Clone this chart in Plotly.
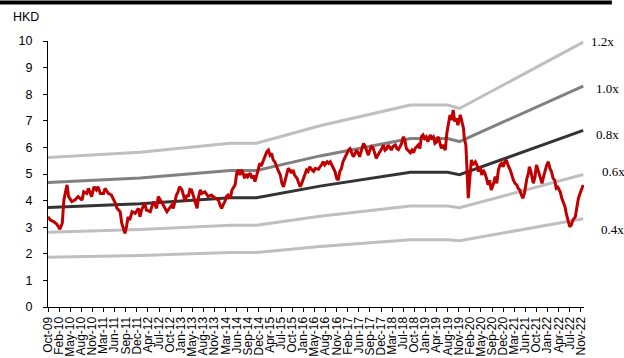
import pandas as pd
import plotly.graph_objects as go

# ---------------- data ----------------
base_date = "2009-10-30"

price_weeks = [
    0, 3, 7, 11, 15, 18, 20, 24, 26, 30, 34, 38, 43, 45, 49, 51, 55, 58, 61, 63,
    66, 70, 72, 76, 80, 85, 87, 91, 93, 95, 97, 99, 101, 103, 106, 110, 114, 116, 118, 122,
    124, 129, 131, 133, 137, 139, 143, 148, 150, 156, 158, 160, 162, 164, 166, 169, 171, 173, 175, 177,
    179, 181, 183, 185, 188, 190, 192, 194, 198, 202, 206, 211, 215, 217, 219, 221, 223, 225, 227, 230,
    232, 236, 238, 240, 242, 244, 246, 248, 250, 252, 255, 257, 259, 261, 263, 265, 267, 269, 271, 274,
    276, 278, 280, 282, 284, 286, 288, 290, 293, 295, 297, 299, 301, 303, 305, 307, 309, 311, 314, 316,
    318, 320, 322, 324, 326, 328, 330, 333, 335, 337, 341, 343, 345, 347, 349, 352, 354, 356, 358, 360,
    362, 364, 366, 368, 370, 372, 375, 377, 379, 381, 383, 385, 387, 389, 391, 393, 396, 398, 400, 402,
    404, 406, 408, 410, 412, 414, 416, 419, 421, 423, 425, 427, 429, 431, 433, 435, 438, 440, 442, 444,
    446, 448, 450, 452, 454, 457, 459, 461, 463, 467, 469, 471, 473, 475, 477, 479, 482, 484, 486, 488,
    490, 492, 494, 496, 498, 501, 503, 505, 507, 509, 511, 513, 515, 517, 520, 522, 524, 525, 527, 528,
    529, 530, 532, 534, 536, 539, 541, 543, 545, 547, 549, 551, 553, 555, 557, 559, 562, 564, 566, 568,
    570, 572, 574, 576, 578, 580, 583, 585, 587, 589, 591, 593, 595, 597, 599, 601, 602, 604, 606, 607,
    609, 611, 612, 614, 615, 616, 618, 621, 623, 625, 627, 629, 631, 633, 635, 637, 639, 641, 643, 646,
    648, 650, 652, 654, 656, 658, 660, 662, 665, 667, 669, 671, 673, 675,
]
price_hkd = [
    3.39, 3.27, 3.21, 3.12, 2.92, 3.15, 4.02, 4.59, 4.15, 3.96, 4.02, 4.15, 4.02, 4.33, 4.27, 4.46, 4.15, 4.52, 4.40, 4.52,
    4.27, 4.27, 4.46, 4.27, 4.21, 3.90, 3.71, 3.58, 3.15, 2.96, 2.77, 3.02, 3.39, 3.27, 3.58, 3.52, 3.71, 3.39, 3.65, 3.90,
    3.65, 3.58, 3.83, 3.96, 3.71, 4.15, 3.96, 3.71, 3.58, 3.83, 3.71, 3.96, 4.21, 4.33, 4.52, 4.40, 4.15, 3.96, 4.21, 4.15,
    4.42, 4.40, 4.21, 4.02, 3.71, 4.15, 4.40, 4.27, 4.33, 4.15, 4.21, 4.09, 4.02, 3.83, 3.71, 3.85, 3.96, 4.15, 4.21, 4.09,
    4.40, 4.59, 5.03, 5.15, 4.96, 5.15, 5.03, 4.84, 5.00, 4.90, 5.03, 4.84, 4.95, 4.71, 4.90, 5.15, 5.40, 5.30, 5.46, 5.65,
    5.84, 5.90, 5.71, 5.77, 5.53, 5.46, 5.27, 5.15, 4.96, 4.65, 4.52, 4.77, 5.03, 5.21, 5.15, 5.03, 5.15, 4.96, 4.84, 4.71,
    4.52, 4.65, 4.84, 5.03, 5.15, 5.10, 5.27, 5.15, 5.10, 5.21, 5.18, 5.27, 5.34, 5.46, 5.34, 5.46, 5.40, 5.46, 5.34, 5.21,
    5.09, 4.84, 4.77, 5.09, 5.20, 5.46, 5.65, 5.77, 5.90, 5.95, 5.77, 5.65, 5.75, 5.90, 5.80, 5.65, 5.96, 6.15, 6.03, 5.84,
    5.71, 5.90, 6.03, 5.98, 5.77, 5.59, 5.71, 5.84, 5.96, 6.09, 5.90, 5.95, 6.09, 6.00, 5.90, 6.03, 6.09, 5.96, 5.92, 6.03,
    6.15, 6.40, 6.28, 5.96, 5.90, 5.80, 5.90, 5.80, 5.96, 6.09, 5.96, 6.40, 6.47, 6.34, 6.40, 6.21, 6.47, 6.35, 6.40, 6.15,
    6.20, 6.40, 6.20, 5.96, 6.10, 5.90, 6.53, 6.97, 7.22, 7.03, 7.41, 6.97, 7.09, 6.84, 7.22, 6.97, 6.72, 6.34, 6.09, 5.46,
    4.71, 4.09, 4.84, 5.53, 5.34, 5.46, 5.34, 5.09, 5.27, 4.96, 5.15, 5.03, 4.84, 4.59, 4.77, 4.40, 4.65, 4.90, 4.65, 5.15,
    5.34, 5.40, 5.27, 5.46, 5.53, 5.34, 5.15, 4.90, 4.77, 4.65, 4.60, 4.46, 4.40, 4.21, 4.09, 4.30, 4.52, 4.84, 5.03, 5.27,
    5.10, 4.84, 4.65, 4.85, 5.09, 5.34, 5.15, 4.90, 4.65, 4.90, 5.15, 5.34, 5.46, 5.21, 5.09, 4.84, 4.77, 4.46, 4.50, 4.33,
    4.09, 3.96, 3.77, 3.46, 3.27, 3.02, 3.08, 3.27, 3.39, 3.83, 4.09, 4.27, 4.46, 4.59,
]

# book value per share (HKD) at turning points
bvps_weeks = [0, 116, 230, 263, 343, 457, 504, 519, 675]
bvps_hkd = [4.68, 4.85, 5.13, 5.13, 5.68, 6.33, 6.33, 6.22, 8.30]

multiples = [1.2, 1.0, 0.8, 0.6, 0.4]
band_labels = ["1.2x", "1.0x", "0.8x", "0.6x", "0.4x"]
band_label_y = [9.97, 8.23, 6.47, 5.09, 2.93]
band_label_x = [1.009, 1.019, 1.019, 1.030, 1.028]
band_colors = ["#BFBFBF", "#808080", "#333333", "#BFBFBF", "#BFBFBF"]

tick_labels = [
    "Oct-09", "Feb-10", "May-10", "Aug-10", "Nov-10", "Mar-11", "Jun-11", "Sep-11", "Dec-11",
    "Apr-12", "Jul-12", "Oct-12", "Jan-13", "May-13", "Aug-13", "Nov-13", "Mar-14", "Jun-14",
    "Sep-14", "Dec-14", "Apr-15", "Jul-15", "Oct-15", "Jan-16", "May-16", "Aug-16", "Nov-16",
    "Feb-17", "Jun-17", "Sep-17", "Dec-17", "Mar-18", "Jul-18", "Oct-18", "Jan-19", "Apr-19",
    "Aug-19", "Nov-19", "Feb-20", "May-20", "Sep-20", "Dec-20", "Mar-21", "Jun-21", "Oct-21",
    "Jan-22", "Apr-22", "Jul-22", "Nov-22",
]
tick_step_weeks = 14
y_ticks = list(range(0, 11))

# ---------------- figure ----------------
t0 = pd.Timestamp(base_date)
to_date = lambda ws: [t0 + pd.Timedelta(weeks=w) for w in ws]

fig = go.Figure()
bx = to_date(bvps_weeks)
for m, c in zip(multiples, band_colors):
    fig.add_trace(go.Scatter(x=bx, y=[m * v for v in bvps_hkd], mode="lines",
                             line=dict(color=c, width=3), hoverinfo="skip", showlegend=False))

fig.add_trace(go.Scatter(x=to_date(price_weeks), y=price_hkd, mode="lines",
                         line=dict(color="#C00000", width=3), hoverinfo="skip", showlegend=False))

tickvals = to_date([i * tick_step_weeks for i in range(len(tick_labels))])

fig.update_layout(
    width=624, height=358,
    margin=dict(l=48, r=40, t=41, b=51),
    paper_bgcolor="white", plot_bgcolor="white",
    font=dict(family="Arial, Liberation Sans, sans-serif", color="black"),
    hovermode=False,
    xaxis=dict(
        type="date",
        range=[t0, t0 + pd.Timedelta(weeks=676)],
        tickmode="array", tickvals=tickvals, ticktext=tick_labels,
        tickangle=-90, tickfont=dict(size=12, family="Liberation Sans, Arial"),
        showgrid=False, zeroline=False,
        showline=True, linecolor="black", linewidth=1,
        ticks="outside", ticklen=4, tickcolor="black",
        automargin=False,
    ),
    yaxis=dict(
        range=[0, 10], tickmode="array", tickvals=y_ticks,
        tickfont=dict(size=12.5, family="Liberation Sans, Arial"),
        showgrid=False, zeroline=False,
        showline=True, linecolor="black", linewidth=1,
        ticks="outside", ticklen=4, tickcolor="black",
        ticklabelstandoff=8, automargin=False,
    ),
)

for lab, ly, lx in zip(band_labels, band_label_y, band_label_x):
    fig.add_annotation(x=lx, xref="paper", y=ly, yref="y", text=lab, showarrow=False,
                       xanchor="left", yanchor="middle",
                       font=dict(family="Liberation Serif, Times New Roman, serif", size=13, color="black"))

fig.add_annotation(x=-0.041, xref="paper", y=1.09, yref="paper", text="HKD", showarrow=False,
                   xanchor="center", yanchor="middle",
                   font=dict(family="Liberation Sans, Arial", size=12.5, color="black"))

# heavy rule across the top
fig.add_shape(type="rect", xref="paper", yref="paper",
              x0=-0.0896, x1=1.052, y0=1.137, y1=1.1525,
              fillcolor="black", line=dict(width=0), layer="above")

fig.write_html("out.html", config={"displayModeBar": False},
               post_script="document.body.style.margin='0';document.body.style.padding='0';")
